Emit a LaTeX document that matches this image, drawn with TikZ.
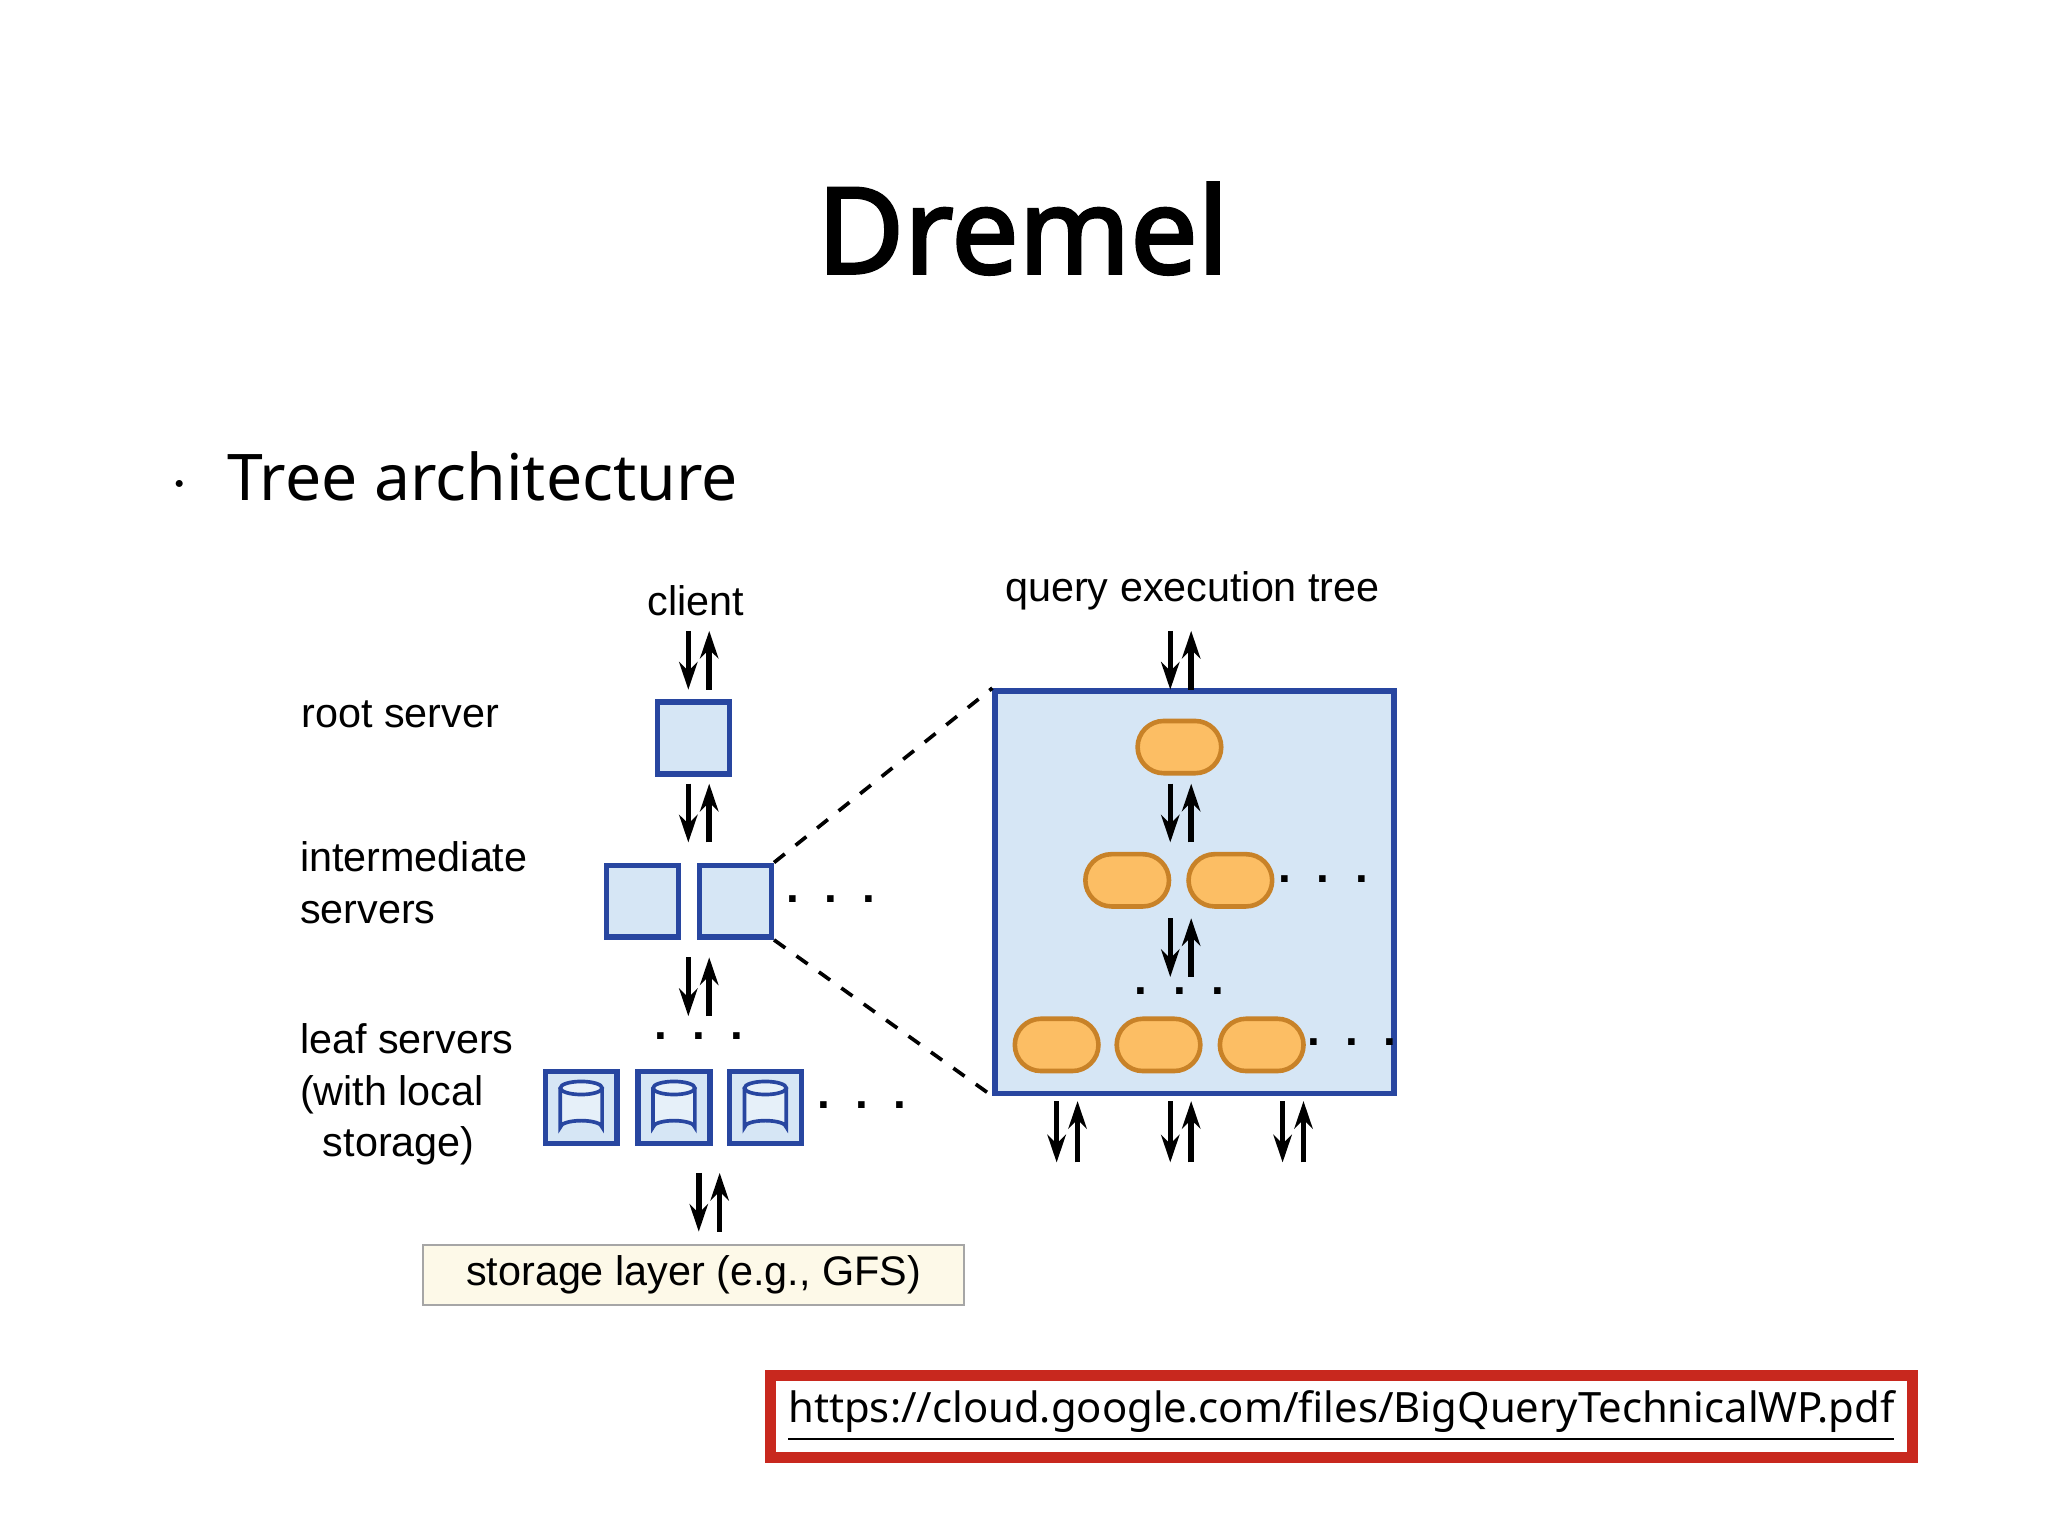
\documentclass[tikz,border=0pt]{standalone}
\usepackage{fontspec}
\setmainfont{Noto Sans}
\newfontfamily\titlef{Noto Sans}[FakeBold=2.5]
\newfontfamily\arl{Liberation Sans}
\usetikzlibrary{arrows.meta,shapes.misc}
\definecolor{bfill}{RGB}{214,230,245}
\definecolor{bline}{RGB}{40,70,160}
\definecolor{ofill}{RGB}{252,190,100}
\definecolor{oline}{RGB}{200,130,40}
\definecolor{sfill}{RGB}{253,249,232}
\definecolor{red2}{RGB}{200,40,30}
\begin{document}
\begin{tikzpicture}[x=0.01cm,y=-0.01cm,
 lbl/.style={font=\arl\fontsize{9}{11}\selectfont,inner sep=0},
 srv/.style={draw=bline,fill=bfill,line width=1.2pt,minimum size=0.55cm,inner sep=0},
 ov/.style={draw=oline,fill=ofill,rounded rectangle,minimum width=0.64cm,minimum height=0.4cm,line width=1pt,inner sep=0},
 ar/.style={-{Stealth[length=6pt,width=4pt]},line width=1.2pt},
 dots/.style={lbl,font=\arl\fontsize{10}{11}\selectfont\bfseries}]
\useasboundingbox (0,0) rectangle (1568,1176);
\fill[white] (0,0) rectangle (1568,1176);
\node[font=\titlef\fontsize{26}{32}\selectfont] (title) at (783,175) {Dremel};
\node[font=\fontsize{14}{17}\selectfont,anchor=west] (bul) at (118,365) {$\cdot$\hspace{0.6em}Tree architecture};
\newcommand\pairar[3]{\draw[ar] (#1,#2) -- (#1,#3); \draw[ar] (#1+16,#3) -- (#1+16,#2);}
\node[lbl] (client) at (533,460) {client};
\pairar{527}{483}{528}
\node[srv] (root) at (531,565) {};
\pairar{527}{600}{645}
\node[srv] (i1) at (492,690) {};
\node[srv] (i2) at (563,690) {};
\node[dots] at (636,688) {.\ \ .\ \ .};
\pairar{527}{733}{778}
\node[dots] at (535,793) {.\ \ .\ \ .};
\foreach \x/\n in {445/l1,516/l2,586/l3}{
 \node[srv] (\n) at (\x,848) {};
 \draw[bline,line width=0.8pt,fill=bfill!60] (\x-16,833) -- (\x-16,863) arc(180:360:16 and 5) -- (\x+16,833);
 \draw[bline,line width=0.8pt,fill=bfill!60] (\x,833) ellipse (16 and 5);
}
\node[dots] at (660,846) {.\ \ .\ \ .};
\pairar{535}{898}{943}
\node[draw=gray!70,fill=sfill,minimum width=4.14cm,minimum height=0.46cm,lbl] (stor) at (531,976) {storage layer (e.g., GFS)};
\node[lbl,anchor=west] at (230,547) {root server};
\node[lbl,anchor=west,align=left,font=\arl\fontsize{9}{11.2}\selectfont] at (229,676) {intermediate\\servers};
\node[lbl,anchor=west,align=left,font=\arl\fontsize{9}{11.2}\selectfont] at (229,838) {leaf servers\\(with local\\\ \ storage)};
\node[draw=bline,fill=bfill,line width=1.2pt,minimum width=3.05cm,minimum height=3.08cm,inner sep=0] (big) at (914.5,683) {};
\draw[dashed,line width=0.8pt] (i2.north east) -- (big.north west);
\draw[dashed,line width=0.8pt] (i2.south east) -- (big.south west);
\node[lbl] (qet) at (913,452) {query execution tree};
\pairar{896}{483}{528}
\node[ov] (o1) at (903,572) {};
\pairar{896}{600}{645}
\node[ov] (o21) at (863,674) {};
\node[ov] (o22) at (942,674) {};
\node[dots] at (1013,673) {.\ \ .\ \ .};
\pairar{896}{703}{748}
\node[dots] at (903,759) {.\ \ .\ \ .};
\node[ov] (o31) at (809,800) {};
\node[ov] (o32) at (887,800) {};
\node[ov] (o33) at (966,800) {};
\node[dots] at (1035,798) {.\ \ .\ \ .};
\pairar{809}{843}{890}
\pairar{896}{843}{890}
\pairar{982}{843}{890}
\node[draw=red2,line width=2.5pt,minimum width=8.74cm,minimum height=0.63cm,inner xsep=2pt,font=\fontsize{9.1}{12}\selectfont] (url) at (1027,1084.5) {\underline{https://cloud.google.com/files/BigQueryTechnicalWP.pdf}};
\end{tikzpicture}
\end{document}
